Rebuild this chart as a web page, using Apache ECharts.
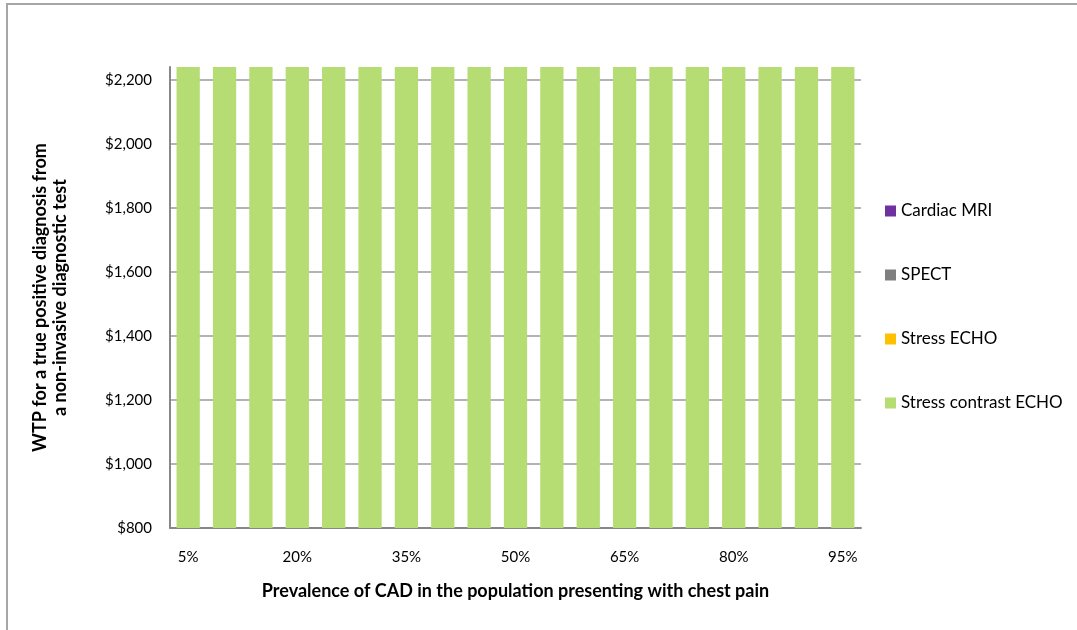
<!DOCTYPE html>
<html>
<head>
<meta charset="utf-8">
<script src="https://cdn.jsdelivr.net/npm/echarts@6/dist/echarts.min.js"></script>
<style>
  html, body { margin: 0; padding: 0; background: #fff; }
  #main { width: 1077px; height: 630px; }
</style>
</head>
<body>
<div id="main"></div>
<script>
// prevalence categories 5% .. 95%
const categories = ['5%', '10%', '15%', '20%', '25%', '30%', '35%', '40%', '45%', '50%',
  '55%', '60%', '65%', '70%', '75%', '80%', '85%', '90%', '95%'];

// WTP values per test (only stress contrast ECHO shows in the picture)
const stressContrastEcho = [2240, 2240, 2240, 2240, 2240, 2240, 2240, 2240, 2240, 2240,
  2240, 2240, 2240, 2240, 2240, 2240, 2240, 2240, 2240];
const stressEcho = [0, 0, 0, 0, 0, 0, 0, 0, 0, 0, 0, 0, 0, 0, 0, 0, 0, 0, 0];
const spect = [0, 0, 0, 0, 0, 0, 0, 0, 0, 0, 0, 0, 0, 0, 0, 0, 0, 0, 0];
const cardiacMri = [0, 0, 0, 0, 0, 0, 0, 0, 0, 0, 0, 0, 0, 0, 0, 0, 0, 0, 0];

const legendNames = ['Cardiac MRI', 'SPECT', 'Stress ECHO', 'Stress contrast ECHO'];

const colors = {
  'Cardiac MRI': '#7030a0',
  'SPECT': '#7f7f7f',
  'Stress ECHO': '#ffc000',
  'Stress contrast ECHO': '#b6dd74'
};

const font = 'Lato, "Open Sans", sans-serif';

const chart = echarts.init(document.getElementById('main'));

function money(v) {
  return '$' + v.toString().replace(/\B(?=(\d{3})+(?!\d))/g, ',');
}

function barSeries(name, data) {
  return {
    name: name,
    type: 'bar',
    stack: 'wtp',
    data: data,
    barCategoryGap: '36%',
    itemStyle: { color: colors[name] }
  };
}

let option = {
  animation: false,
  textStyle: { fontFamily: font },
  graphic: [
    {
      type: 'polyline',
      shape: { points: [[7, 630], [7, 4], [1077, 4]] },
      style: { stroke: '#a6a6a6', lineWidth: 2, fill: null }
    }
  ],
  grid: {
    left: 170,
    right: 216,
    top: 67,
    bottom: 102
  },
  legend: {
    orient: 'vertical',
    left: 880,
    top: 196,
    icon: 'rect',
    itemWidth: 11,
    itemHeight: 11,
    itemGap: 44,
    data: legendNames,
    textStyle: { fontFamily: font, fontSize: 17, color: '#000', lineHeight: 20 }
  },
  xAxis: {
    type: 'category',
    data: categories,
    name: 'Prevalence of CAD in the population presenting with chest pain',
    nameLocation: 'middle',
    nameGap: 54,
    nameTextStyle: { fontFamily: font, fontSize: 18, fontWeight: 'bold', color: '#000' },
    axisLine: { lineStyle: { color: '#878787', width: 2 } },
    axisTick: { show: false },
    axisLabel: { interval: 2, margin: 22, fontSize: 15, color: '#000', fontFamily: font }
  },
  yAxis: {
    type: 'value',
    min: 800,
    max: 2240,
    interval: 200,
    name: 'WTP for a true positive diagnosis from\na non-invasive diagnostic test',
    nameLocation: 'middle',
    nameGap: 100,
    nameTextStyle: { fontFamily: font, fontSize: 18, fontWeight: 'bold', color: '#000', lineHeight: 20 },
    axisLine: { show: true, lineStyle: { color: '#878787', width: 2 } },
    axisTick: { show: false },
    splitLine: { showMaxLine: false, lineStyle: { color: '#b4b4b4', width: 2 } },
    axisLabel: {
      showMaxLabel: false,
      margin: 18,
      fontSize: 15,
      color: '#000',
      fontFamily: font,
      formatter: money
    }
  },
  series: [
    barSeries('Stress contrast ECHO', stressContrastEcho),
    barSeries('Stress ECHO', stressEcho),
    barSeries('SPECT', spect),
    barSeries('Cardiac MRI', cardiacMri)
  ]
};

chart.setOption(option);
</script>
</body>
</html>
